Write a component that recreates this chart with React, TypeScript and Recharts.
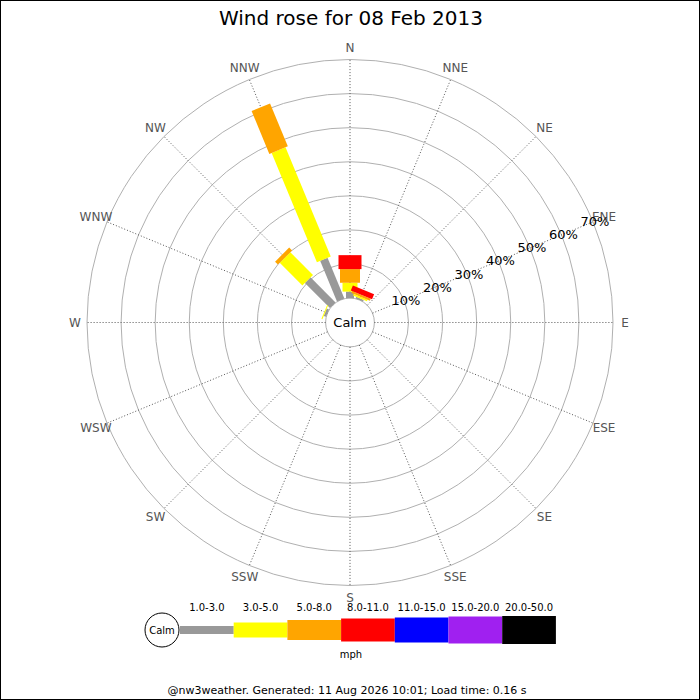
import React from 'react';
import {
  RadialBarChart,
  RadialBar,
  PolarGrid,
  PolarAngleAxis,
  PolarRadiusAxis,
  Legend,
} from 'recharts';

// ---------- data ----------
const DIRECTIONS = ['N', 'NNE', 'NE', 'ENE', 'E', 'ESE', 'SE', 'SSE', 'S', 'SSW', 'SW', 'WSW', 'W', 'WNW', 'NW', 'NNW'];
const DIRECTION_DEGREES = [0, 22.5, 45, 67.5, 90, 112.5, 135, 157.5, 180, 202.5, 225, 247.5, 270, 292.5, 315, 337.5];
const SPEED_BANDS = ['1.0-3.0', '3.0-5.0', '5.0-8.0', '8.0-11.0', '11.0-15.0', '15.0-20.0', '20.0-50.0'];
const PCT_TICKS = [0, 10, 20, 30, 40, 50, 60, 70];

// percentage of time per direction, per speed band (mph)
const BAND_1_3 = [1.9, 0.5, 0, 0, 0, 0, 0, 0, 0, 0, 0, 0, 0, 0.7, 10.4, 12.9];
const BAND_3_5 = [2.6, 0.5, 0, 0, 0, 0, 0, 0, 0, 0, 0, 0, 0, 0.3, 9.4, 34.7];
const BAND_5_8 = [4.0, 0.6, 0, 0, 0, 0, 0, 0, 0, 0, 0, 0, 0, 0, 1.2, 13.6];
const BAND_8_11 = [4.1, 1.6, 0, 0, 0, 0, 0, 0, 0, 0, 0, 0, 0, 0, 0, 0];
const BAND_11_15 = [0, 0, 0, 0, 0, 0, 0, 0, 0, 0, 0, 0, 0, 0, 0, 0];
const BAND_15_20 = [0, 0, 0, 0, 0, 0, 0, 0, 0, 0, 0, 0, 0, 0, 0, 0];
const BAND_20_50 = [0, 0, 0, 0, 0, 0, 0, 0, 0, 0, 0, 0, 0, 0, 0, 0];

const TITLE = 'Wind rose for 08 Feb 2013';
const CALM_LABEL = 'Calm';
const UNIT_LABEL = 'mph';
const FOOTER = '@nw3weather. Generated: 11 Aug 2026 10:01; Load time: 0.16 s';

// ---------- styles ----------
const FONT = '"DejaVu Sans", Verdana, sans-serif';
const BAND_COLORS = ['#999999', '#ffff00', '#ffa500', '#ff0000', '#0000ff', '#a020f0', '#000000'];
const BAND_WIDTHS = [8, 15, 20, 23, 25, 27, 28];
const CX = 350;
const CY = 322.5;
const INNER_R = 24.4;
const OUTER_R = 263;

const BAND_SERIES = [BAND_1_3, BAND_3_5, BAND_5_8, BAND_8_11, BAND_11_15, BAND_15_20, BAND_20_50];
const data = DIRECTIONS.map((dir, i) => {
  const row: Record<string, number | string> = { dir, deg: DIRECTION_DEGREES[i] };
  BAND_SERIES.forEach((s, k) => {
    row['b' + k] = s[i];
  });
  return row;
});

const makeShape = (w: number, color: string) => (props: any) => {
  const { cx, cy, innerRadius, outerRadius, startAngle, endAngle } = props;
  if (!(Math.abs(outerRadius - innerRadius) > 0.05)) return <g />;
  const mid = ((startAngle + endAngle) / 2) * (Math.PI / 180);
  const ux = Math.cos(mid);
  const uy = -Math.sin(mid);
  const px = -uy;
  const py = ux;
  const h = w / 2;
  const pts = [
    [innerRadius, -h],
    [outerRadius, -h],
    [outerRadius, h],
    [innerRadius, h],
  ]
    .map(([r, s]) => `${cx + ux * r + px * s},${cy + uy * r + py * s}`)
    .join(' ');
  return <polygon points={pts} fill={color} stroke="none" />;
};

const AngleTick = (props: any) => {
  const { x, y, payload } = props;
  const idx = DIRECTION_DEGREES.indexOf(payload.value);
  return (
    <text x={x} y={y} textAnchor="middle" dominantBaseline="central" fill="#555555" fontSize={12} fontFamily={FONT}>
      {idx >= 0 ? DIRECTIONS[idx] : ''}
    </text>
  );
};

const RadiusTick = (props: any) => {
  const { x, y, payload } = props;
  if (payload.value === 0) {
    return (
      <text x={CX} y={CY} textAnchor="middle" dominantBaseline="central" fill="#000" fontSize={13} fontFamily={FONT}>
        {CALM_LABEL}
      </text>
    );
  }
  return (
    <text x={x + 2} y={y} textAnchor="middle" dominantBaseline="central" fill="#000" fontSize={13} fontFamily={FONT}>
      {payload.value + '%'}
    </text>
  );
};

const LegendContent = () => {
  const top = 590;
  const segW = 53.7;
  const x0 = 180;
  const midY = 630 - top;
  return (
    <svg width={700} height={80} style={{ display: 'block' }}>
      <circle cx={162} cy={midY} r={17} fill="#fff" stroke="#000" strokeWidth={1} />
      <text x={162} y={midY} textAnchor="middle" dominantBaseline="central" fontSize={10} fontFamily={FONT} fill="#000">
        {CALM_LABEL}
      </text>
      {SPEED_BANDS.map((label, k) => {
        const x = x0 + k * segW;
        const w = BAND_WIDTHS[k];
        return (
          <g key={label}>
            <rect x={x} y={midY - w / 2} width={segW} height={w} fill={BAND_COLORS[k]} />
            <text x={x + segW / 2} y={607 - top} textAnchor="middle" dominantBaseline="central" fontSize={10} fontFamily={FONT} fill="#000">
              {label}
            </text>
          </g>
        );
      })}
      <text x={351} y={654 - top} textAnchor="middle" dominantBaseline="central" fontSize={10} fontFamily={FONT} fill="#000">
        {UNIT_LABEL}
      </text>
    </svg>
  );
};

export default function App() {
  return (
    <div
      style={{
        position: 'absolute',
        left: 0,
        top: 0,
        width: 700,
        height: 700,
        boxSizing: 'border-box',
        border: '1px solid #000',
        background: '#fff',
        fontFamily: FONT,
        overflow: 'hidden',
      }}
    >
      <div style={{ position: 'absolute', left: -1, top: -1 }}>
        <RadialBarChart
          width={700}
          height={700}
          data={data}
          layout="centric"
          cx={CX}
          cy={CY}
          innerRadius={INNER_R}
          outerRadius={OUTER_R}
          startAngle={90}
          endAngle={-270}
          margin={{ top: 0, right: 0, bottom: 0, left: 0 }}
        >
          <PolarGrid gridType="circle" radialLines={false} stroke="#b0b0b0" strokeWidth={1} />
          <PolarGrid gridType="circle" polarRadius={[]} stroke="#555555" strokeWidth={1} strokeDasharray="1 2" />
          <PolarAngleAxis
            dataKey="deg"
            type="number"
            domain={[0, 360]}
            ticks={DIRECTION_DEGREES}
            tickLine={false}
            axisLine={false}
            tickSize={12}
            tick={<AngleTick />}
          />
          <PolarRadiusAxis
            type="number"
            domain={[0, 70]}
            ticks={PCT_TICKS}
            angle={22.5}
            axisLine={false}
            tickLine={false}
            tick={<RadiusTick />}
          />
          {SPEED_BANDS.map((label, k) => (
            <RadialBar
              key={label}
              dataKey={'b' + k}
              name={label}
              stackId="rose"
              fill={BAND_COLORS[k]}
              isAnimationActive={false}
              shape={makeShape(BAND_WIDTHS[k], BAND_COLORS[k])}
            />
          ))}
          <Legend
            verticalAlign="bottom"
            content={<LegendContent />}
            wrapperStyle={{ position: 'absolute', left: 0, top: 590, bottom: 'auto', width: 700, height: 80 }}
          />
        </RadialBarChart>
      </div>
      <div
        style={{
          position: 'absolute',
          left: 0,
          top: 5,
          width: 700,
          textAlign: 'center',
          fontSize: 20,
          lineHeight: '24px',
          color: '#000',
        }}
      >
        {TITLE}
      </div>
      <div
        style={{
          position: 'absolute',
          left: -4,
          top: 683,
          width: 700,
          textAlign: 'center',
          fontSize: 11,
          lineHeight: '14px',
          color: '#000',
        }}
      >
        {FOOTER}
      </div>
    </div>
  );
}
